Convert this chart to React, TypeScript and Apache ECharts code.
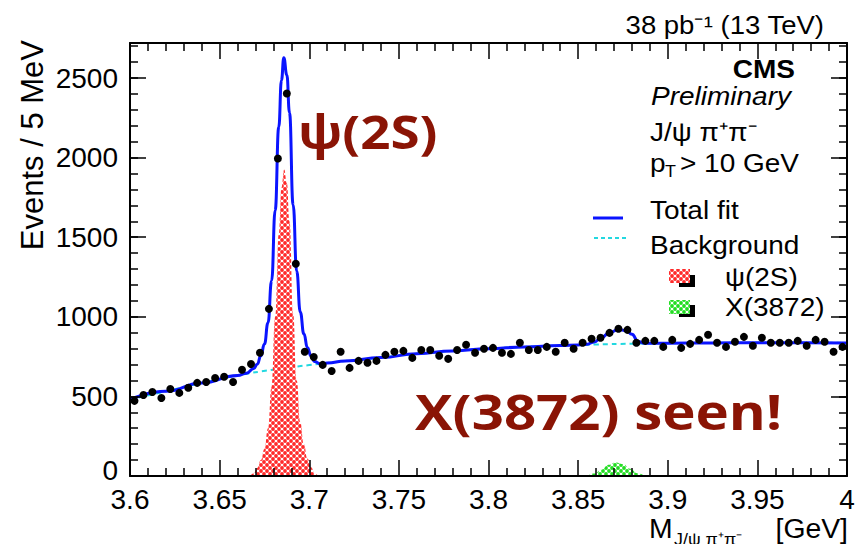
import React, { useEffect, useRef } from "react";
import * as echarts from "echarts";

// ---- data ----
const BIN_START = 3.6;
const BIN_WIDTH = 0.005;
const counts = [
  472, 509, 528, 490, 547, 522, 554, 585, 591, 616,
  623, 591, 667, 704, 774, 1050, 1994, 2403, 1333, 780,
  748, 698, 660, 780, 679, 723, 711, 723, 761, 780,
  786, 742, 792, 792, 755, 736, 792, 824, 774, 799,
  805, 774, 767, 837, 792, 792, 811, 780, 837, 799,
  837, 862, 868, 899, 925, 918, 837, 849, 849, 811,
  855, 805, 830, 855, 887, 837, 811, 843, 874, 818,
  868, 837, 837, 837, 849, 818, 855, 843, 780, 811,
];

const bgX = [3.6, 3.62, 3.64, 3.66, 3.68, 3.7, 3.72, 3.74, 3.76, 3.78, 3.8, 3.82, 3.84, 3.86, 3.88, 3.9, 3.925, 3.95, 3.975, 4.0];
const bgY = [480, 532, 584, 632, 668, 697, 722, 744, 768, 786, 800, 811, 820, 826, 831, 834, 836, 837, 837, 836];

const fitX = [
  3.6, 3.62, 3.64, 3.66, 3.665, 3.669, 3.671, 3.673, 3.675, 3.677, 3.679, 3.681, 3.683, 3.6845, 3.6858,
  3.6875, 3.689, 3.691, 3.693, 3.695, 3.697, 3.699, 3.701, 3.703, 3.706, 3.71, 3.72, 3.74, 3.76, 3.78,
  3.8, 3.82, 3.84, 3.85, 3.855, 3.859, 3.863, 3.867, 3.8725, 3.877, 3.88, 3.8835, 3.887, 3.89, 3.9,
  3.925, 3.95, 3.975, 4.0,
];
const fitY = [
  480, 532, 584, 632, 645, 675, 702, 755, 829, 963, 1226, 1670, 2193, 2486, 2627,
  2519, 2281, 1704, 1287, 1030, 893, 806, 753, 719, 705, 710, 722, 744, 768, 786,
  800, 811, 820, 823, 828, 842, 868, 897, 920, 912, 890, 845, 834, 834, 834,
  836, 837, 837, 836,
];

const psiX = [3.667, 3.669, 3.671, 3.673, 3.675, 3.677, 3.679, 3.681, 3.683, 3.6845, 3.686, 3.6875, 3.689, 3.691, 3.693, 3.695, 3.697, 3.699, 3.701, 3.703, 3.705];
const psiY = [0, 15, 50, 100, 170, 300, 560, 1000, 1520, 1810, 1925, 1840, 1600, 1020, 600, 340, 200, 110, 55, 18, 0];

const xsX = [3.855, 3.859, 3.863, 3.867, 3.871, 3.875, 3.879, 3.883, 3.887];
const xsY = [0, 15, 40, 70, 85, 75, 45, 17, 0];

const xTicks = { min: 3.6, max: 4.0, interval: 0.05 };
const yTicks = { min: 0, max: 2720, major: 500, minor: 100 };

const FONT = "'Liberation Sans', Arial, Helvetica, sans-serif";
const BIG = "'Open Sans', 'Noto Sans', sans-serif";
const DARKRED = "#8a1405";

function zip(xs: number[], ys: number[]) {
  return xs.map((x, i) => [x, ys[i]]);
}

function makePattern(color: string) {
  const c = document.createElement("canvas");
  c.width = 6;
  c.height = 6;
  const ctx = c.getContext("2d")!;
  ctx.fillStyle = "#ffffff";
  ctx.fillRect(0, 0, 6, 6);
  ctx.fillStyle = color;
  const pts = [[3, 3], [0, 0], [6, 0], [0, 6], [6, 6]];
  for (const [x, y] of pts) {
    ctx.beginPath();
    ctx.arc(x, y, 1.9, 0, Math.PI * 2);
    ctx.fill();
  }
  return { image: c.toDataURL(), repeat: "repeat", imageWidth: 6, imageHeight: 6 };
}

function txt(text: string, x: number, y: number, opts: any = {}) {
  const { align = "left", size = 25, weight = "normal", style = "normal", family = FONT, color = "#000", scaleX = 1.12, rotation = 0 } = opts;
  return {
    type: "text",
    x,
    y,
    scaleX,
    rotation,
    z: 100,
    style: {
      text,
      fontSize: size,
      fontWeight: weight,
      fontStyle: style,
      fontFamily: family,
      fill: color,
      align,
      verticalAlign: "middle",
      textAlign: align,
      textVerticalAlign: "middle",
    },
  };
}

export default function App() {
  const ref = useRef<HTMLDivElement>(null);

  useEffect(() => {
    if (!ref.current) return;
    const chart = echarts.init(ref.current, null, { renderer: "svg" });
    const redPat = makePattern("#ff2a2a");
    const greenPat = makePattern("#22dd22");

    const tickLine = { color: "#000", width: 1.5 };
    const xBase = (pos: string, labels: boolean) => ({
      type: "value",
      position: pos,
      min: xTicks.min,
      max: xTicks.max,
      interval: xTicks.interval,
      z: 10,
      axisLine: { show: true, onZero: false, lineStyle: { color: "#000", width: 2 } },
      axisTick: { show: true, inside: true, length: 16, lineStyle: tickLine },
      minorTick: { show: true, splitNumber: 5, length: 8, lineStyle: tickLine },
      splitLine: { show: false },
      minorSplitLine: { show: false },
      axisLabel: labels
        ? {
            show: true,
            margin: 12,
            fontSize: 28,
            lineHeight: 22,
            fontFamily: FONT,
            color: "#000",
            formatter: (v: number) => String(+v.toFixed(2)),
          }
        : { show: false },
    });
    const yBase = (pos: string, interval: number, len: number, labels: boolean, line: boolean) => ({
      type: "value",
      position: pos,
      min: yTicks.min,
      max: yTicks.max,
      interval,
      z: 10,
      axisLine: { show: line, onZero: false, lineStyle: { color: "#000", width: 2 } },
      axisTick: { show: true, inside: true, length: len, lineStyle: tickLine },
      splitLine: { show: false },
      axisLabel: labels
        ? {
            show: true,
            margin: 12,
            fontSize: 28,
            lineHeight: 20,
            fontFamily: FONT,
            color: "#000",
            formatter: (v: number) => (v > 0 && Math.abs(v % yTicks.major) < 1e-6 ? String(v) : ""),
          }
        : { show: false },
    });

    const points = counts.map((c, i) => [BIN_START + BIN_WIDTH * (i + 0.5), c]);

    const option: any = {
      animation: false,
      backgroundColor: "#ffffff",
      textStyle: { fontFamily: FONT },
      grid: { left: 130, right: 20, top: 43, bottom: 76 },
      xAxis: [xBase("bottom", true), xBase("top", false)],
      yAxis: [
        yBase("left", yTicks.major, 16, true, true),
        yBase("left", yTicks.minor, 8, false, false),
        yBase("right", yTicks.major, 16, false, true),
        yBase("right", yTicks.minor, 8, false, false),
      ],
      series: [
        {
          name: "Background",
          type: "line",
          data: zip(bgX, bgY),
          smooth: true,
          showSymbol: false,
          symbol: "none",
          z: 2,
          lineStyle: { color: "#22d8e0", width: 2, type: [5, 4] },
        },
        {
          name: "psi(2S)",
          type: "line",
          data: zip(psiX, psiY),
          smooth: true,
          smoothMonotone: "x",
          symbol: "none",
          z: 3,
          lineStyle: { width: 0, opacity: 0 },
          areaStyle: { color: redPat, opacity: 1 },
        },
        {
          name: "X(3872)",
          type: "line",
          data: zip(xsX, xsY),
          smooth: true,
          smoothMonotone: "x",
          symbol: "none",
          z: 3,
          lineStyle: { width: 0, opacity: 0 },
          areaStyle: { color: greenPat, opacity: 1 },
        },
        {
          name: "Total fit",
          type: "line",
          data: zip(fitX, fitY),
          smooth: true,
          smoothMonotone: "x",
          symbol: "none",
          z: 4,
          lineStyle: { color: "#0a14ff", width: 3 },
        },
        {
          name: "Data",
          type: "scatter",
          data: points,
          symbol: "circle",
          symbolSize: 8,
          z: 5,
          itemStyle: { color: "#000", opacity: 1 },
        },
      ],
      graphic: [
        txt("0", 118, 470, { align: "right", size: 28, scaleX: 1 }),
        txt("38 pb⁻¹ (13 TeV)", 824, 25, { align: "right", scaleX: 1.1 }),
        txt("CMS", 795, 70, { align: "right", weight: "bold", size: 25 }),
        txt("Preliminary", 651, 97, { style: "italic" }),
        txt("J/ψ π⁺π⁻", 650, 133),
        txt("p", 650, 164),
        txt("T", 665, 172, { size: 16 }),
        txt("> 10 GeV", 680, 164),
        txt("Total fit", 650, 211),
        txt("Background", 650, 246),
        txt("ψ(2S)", 725, 278),
        txt("X(3872)", 725, 308),
        {
          type: "line",
          z: 100,
          shape: { x1: 593, y1: 218, x2: 623, y2: 218 },
          style: { stroke: "#0a14ff", lineWidth: 3 },
        },
        {
          type: "line",
          z: 100,
          shape: { x1: 594, y1: 238, x2: 627, y2: 238 },
          style: { stroke: "#22d8e0", lineWidth: 2, lineDash: [4, 3] },
        },
        { type: "rect", z: 100, shape: { x: 679, y: 275, width: 16, height: 12 }, style: { fill: "#000" } },
        { type: "rect", z: 101, shape: { x: 669, y: 269, width: 21, height: 14 }, style: { fill: redPat } },
        { type: "rect", z: 100, shape: { x: 679, y: 305, width: 16, height: 12 }, style: { fill: "#000" } },
        { type: "rect", z: 101, shape: { x: 669, y: 300, width: 21, height: 14 }, style: { fill: greenPat } },
        txt("Events / 5 MeV", 32, 40, { align: "right", size: 31, scaleX: 1, rotation: Math.PI / 2 }),
        txt("M", 649, 529, { size: 27, scaleX: 1.05 }),
        txt("J/ψ π⁺π⁻", 674, 539, { size: 17, scaleX: 1.05 }),
        txt("[GeV]", 848, 529, { align: "right", size: 27, scaleX: 1.05 }),
        txt("ψ(2S)", 298, 131, { size: 46, weight: "bold", family: BIG, color: DARKRED, scaleX: 1.15 }),
        txt("X(3872) seen!", 415, 411, { size: 49, weight: "bold", family: BIG, color: DARKRED, scaleX: 1.15 }),
      ],
    };

    chart.setOption(option);
    return () => chart.dispose();
  }, []);

  return <div ref={ref} style={{ width: 867, height: 552, margin: -8 }} />;
}
